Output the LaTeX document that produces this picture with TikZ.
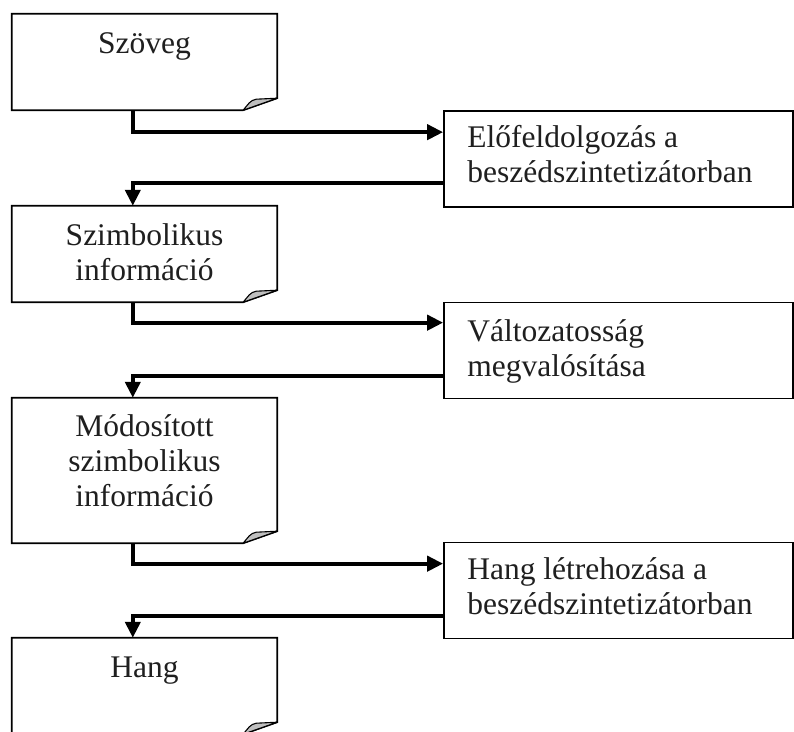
\documentclass[tikz,border=0pt]{standalone}
\usepackage{fontspec}
\setmainfont{Liberation Serif}
\usetikzlibrary{calc,arrows.meta}
\tikzset{
  x={(1pt,0pt)}, y={(0pt,-1pt)},
  docnode/.style={minimum width=265pt, inner sep=0pt, draw=none},
  procbox/.style={draw=black, line width=1.7pt, minimum width=349pt, minimum height=96pt, inner sep=0pt},
  docline/.style={draw=black, line width=1.7pt, fill=white},
  foldline/.style={draw=black, line width=1.1pt, fill=black!25, line join=round},
  lbl/.style={font=\fontsize{31.5}{35}\selectfont, inner sep=0pt, text=black!88},
  flow/.style={line width=4pt, -{Triangle[length=16pt,width=15pt]}},
}
\newcommand\docframe[1]{%
  \draw[docline] (#1.north west) -- (#1.north east) -- ($(#1.south east)+(0,-12)$)
    -- ($(#1.south east)+(-34,0)$) -- (#1.south west) -- cycle;
  \draw[foldline] ($(#1.south east)+(-34,0)$)
    .. controls ($(#1.south east)+(-29,-6)$) and ($(#1.south east)+(-27,-10)$) .. ($(#1.south east)+(-21,-11)$)
    -- ($(#1.south east)+(0,-12)$) -- cycle;
}
\begin{document}
\begin{tikzpicture}
\useasboundingbox (0,0) rectangle (794,731);
\clip (0,0) rectangle (794,731);
% document boxes
\node[docnode, minimum height=96pt] (d1) at (144.5,62) {};
\node[docnode, minimum height=96pt] (d2) at (144.5,254) {};
\node[docnode, minimum height=145pt] (d3) at (144.5,470.5) {};
\node[docnode, minimum height=96pt] (d4) at (144.5,686) {};
\docframe{d1}
\docframe{d2}
\docframe{d3}
\docframe{d4}
\node[lbl, anchor=north, align=center] (t1) at ($(d1.north)+(0,15)$) {\rule{0pt}{24pt}Szöveg};
\node[lbl, anchor=north, align=center] (t2) at ($(d2.north)+(0,15)$) {\rule{0pt}{24pt}Szimbolikus\\információ};
\node[lbl, anchor=north, align=center] (t3) at ($(d3.north)+(0,14)$) {\rule{0pt}{24pt}Módosított\\szimbolikus\\információ};
\node[lbl, anchor=north, align=center] (t4) at ($(d4.north)+(0,15)$) {\rule{0pt}{24pt}Hang};
% process boxes
\node[procbox] (p1) at (618.5,159) {};
\node[procbox] (p2) at (618.5,350.5) {};
\node[procbox] (p3) at (618.5,590.5) {};
\node[lbl, anchor=north west, align=left] (u1) at ($(p1.north west)+(24,13)$) {\rule{0pt}{24pt}Előfeldolgozás a\\beszédszintetizátorban};
\node[lbl, anchor=north west, align=left] (u2) at ($(p2.north west)+(24,16)$) {\rule{0pt}{24pt}Változatosság\\megvalósítása};
\node[lbl, anchor=north west, align=left] (u3) at ($(p3.north west)+(24,14)$) {\rule{0pt}{24pt}Hang létrehozása a\\beszédszintetizátorban};
% connectors
\draw[flow] ($(d1.south west)+(121,0)$) |- ($(p1.north west)+(0,22)$);
\draw[flow] ($(p1.south west)+(0,-25)$) -| ($(d2.north west)+(121,0)$);
\draw[flow] ($(d2.south west)+(121,0)$) |- ($(p2.north west)+(0,21)$);
\draw[flow] ($(p2.south west)+(0,-23)$) -| ($(d3.north west)+(121,0)$);
\draw[flow] ($(d3.south west)+(121,0)$) |- ($(p3.north west)+(0,22)$);
\draw[flow] ($(p3.south west)+(0,-23)$) -| ($(d4.north west)+(121,0)$);
\end{tikzpicture}
\end{document}
